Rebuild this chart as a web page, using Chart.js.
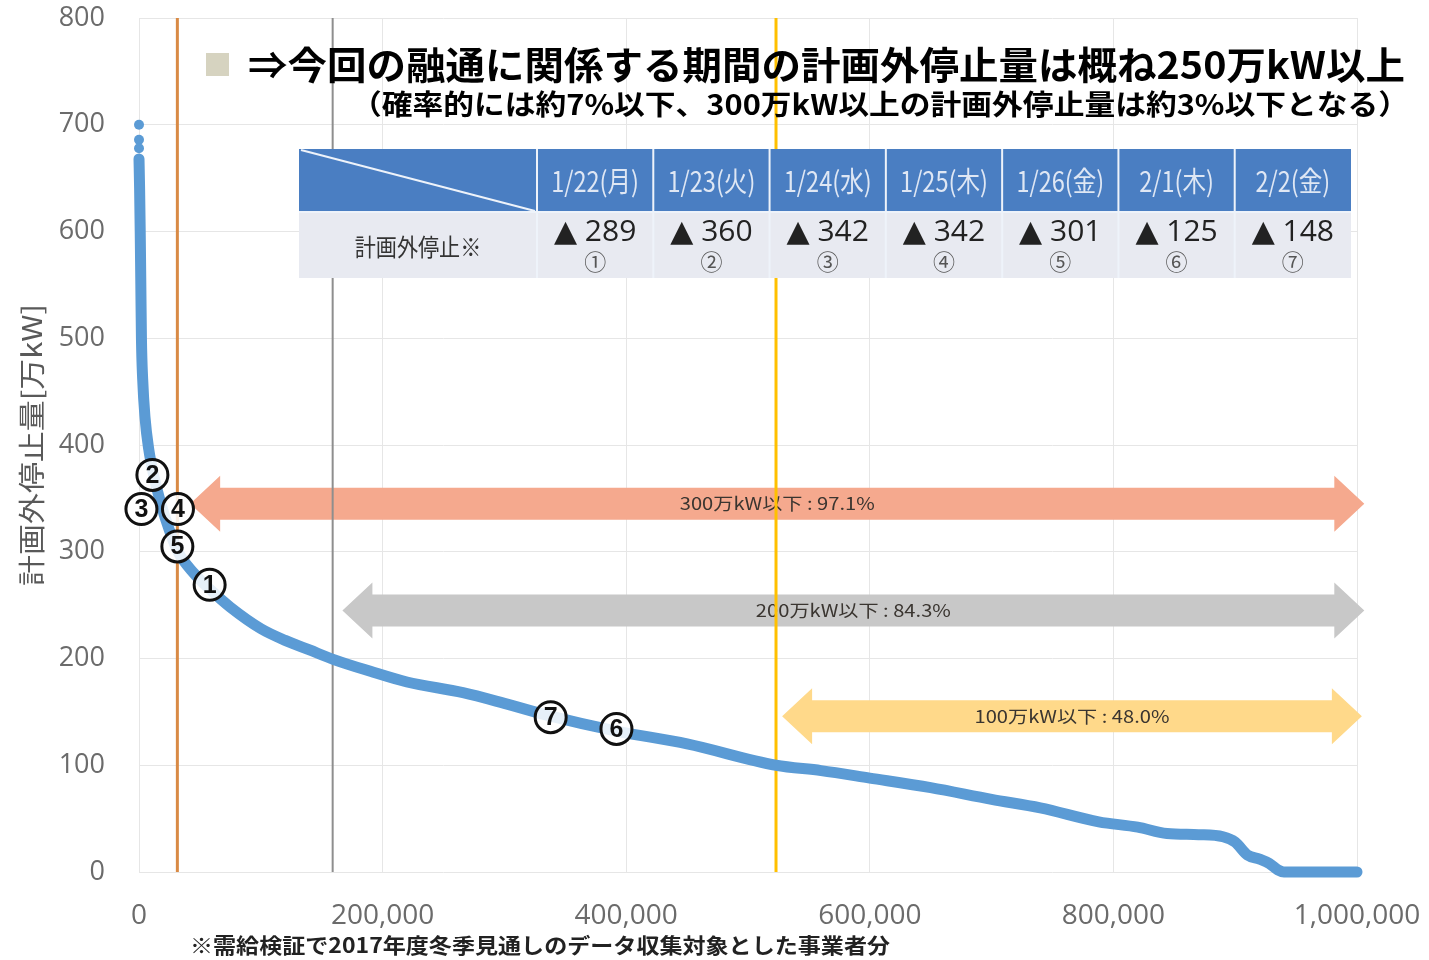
<!DOCTYPE html>
<html>
<head>
<meta charset="utf-8">
<script src="https://cdn.jsdelivr.net/npm/chart.js@4.4.1/dist/chart.umd.min.js"></script>
<style>
  html, body { margin:0; padding:0; background:#fff; }
  canvas { display:block; }
</style>
</head>
<body>
<canvas id="chart" width="1429" height="960"></canvas>
<script>
// ============ DATA ============
// duration curve of unplanned outage (万kW) vs. rank
const curveX = [0, 500, 1000, 1500, 2000, 3000, 5000, 8000, 12000, 18000, 25000, 32000, 45000, 58000, 75000,
  100000, 120000, 140000, 160000, 190000, 220000, 266000, 300000, 338000, 392000, 450000, 523000, 560000,
  600000, 650000, 700000, 740000, 788000, 820000, 844000, 870000, 890000, 900000, 910000, 920000, 928000,
  935000, 940000, 1000000];
const curveY = [668, 640, 600, 550, 500, 462, 425, 396, 372, 345, 320, 300, 280, 265, 248,
  228, 217, 208, 199, 188, 178, 168, 158, 146, 132, 120, 100, 95,
  88, 79, 68, 60, 47, 42, 36, 35, 33, 28, 16, 12, 8,
  2, 0, 0];
const topDotsY = [700, 686, 678];

const xTicks = [0, 200000, 400000, 600000, 800000, 1000000];
const yTicks = [0, 100, 200, 300, 400, 500, 600, 700, 800];

// reference lines (300 / 200 / 100 万kW crossings)
const refLineX = [31500, 159000, 523000];
const refLineColor = ['#D98A45', '#8E8E8E', '#FFC000'];

// range arrows
const arrowY = [345, 245, 146];
const arrowFrom = [42000, 167000, 528000];
const arrowTo = [1006000, 1006000, 1004000];
const arrowColor = ['#F5A98E', '#C8C8C8', '#FFD98A'];
const arrowLabels = ['300万kW以下 : 97.1%', '200万kW以下 : 84.3%', '100万kW以下 : 48.0%'];

// table
const dates = ['1/22(月)', '1/23(火)', '1/24(水)', '1/25(木)', '1/26(金)', '2/1(木)', '2/2(金)'];
const outages = [289, 360, 342, 342, 301, 125, 148];
const marks = ['①', '②', '③', '④', '⑤', '⑥', '⑦'];

// circled markers on the curve
const markX = [58000, 11000, 2000, 32000, 31500, 392000, 338000];
const markY = [269, 372, 340, 340, 305, 134, 145];

const JP = '"Noto Sans CJK JP", "Noto Sans", sans-serif';

function fitText(ctx, text, x, y, w, align) {
  const m = ctx.measureText(text).width;
  const s = w / m;
  ctx.save();
  ctx.translate(x, y);
  ctx.scale(s, 1);
  ctx.textAlign = align;
  ctx.fillText(text, 0, 0);
  ctx.restore();
}

function squeezeText(ctx, text, x, y, s) {
  ctx.save();
  ctx.translate(x, y);
  ctx.scale(s, 1);
  ctx.textAlign = 'center';
  ctx.fillText(text, 0, 0);
  ctx.restore();
}

function drawArrow(ctx, x1, x2, cy, color) {
  const bh = 16, hh = 28, hl = 30;
  ctx.fillStyle = color;
  ctx.beginPath();
  ctx.moveTo(x1, cy);
  ctx.lineTo(x1 + hl, cy - hh);
  ctx.lineTo(x1 + hl, cy - bh);
  ctx.lineTo(x2 - hl, cy - bh);
  ctx.lineTo(x2 - hl, cy - hh);
  ctx.lineTo(x2, cy);
  ctx.lineTo(x2 - hl, cy + hh);
  ctx.lineTo(x2 - hl, cy + bh);
  ctx.lineTo(x1 + hl, cy + bh);
  ctx.lineTo(x1 + hl, cy + hh);
  ctx.closePath();
  ctx.fill();
}

const decorPlugin = {
  id: 'decor',
  beforeDatasetsDraw(chart) {
    const ctx = chart.ctx, xs = chart.scales.x, ys = chart.scales.y, area = chart.chartArea;
    ctx.save();
    // y axis title
    ctx.fillStyle = '#595959';
    ctx.font = '27px ' + JP;
    ctx.textBaseline = 'middle';
    ctx.save();
    ctx.translate(32, (area.top + area.bottom) / 2);
    ctx.rotate(-Math.PI / 2);
    fitText(ctx, '計画外停止量[万kW]', 0, 0, 282, 'center');
    ctx.restore();

    arrowY.forEach((v, i) => {
      const x1 = xs.getPixelForValue(arrowFrom[i]);
      const x2 = xs.getPixelForValue(arrowTo[i]);
      const cy = ys.getPixelForValue(v);
      drawArrow(ctx, x1, x2, cy, arrowColor[i]);
      ctx.fillStyle = '#3a3530';
      ctx.font = '17px ' + JP;
      ctx.textBaseline = 'middle';
      fitText(ctx, arrowLabels[i], (x1 + x2) / 2, cy, 195, 'center');
    });
    refLineX.forEach((v, i) => {
      const x = xs.getPixelForValue(v);
      ctx.strokeStyle = refLineColor[i];
      ctx.lineWidth = i === 1 ? 2 : 3;
      ctx.beginPath();
      ctx.moveTo(x, area.top);
      ctx.lineTo(x, area.bottom);
      ctx.stroke();
    });
    ctx.restore();
  },
  afterDatasetsDraw(chart) {
    const ctx = chart.ctx, xs = chart.scales.x, ys = chart.scales.y;
    ctx.save();
    markX.forEach((v, i) => {
      const x = xs.getPixelForValue(v), y = ys.getPixelForValue(markY[i]);
      ctx.beginPath();
      ctx.arc(x, y, 15.5, 0, Math.PI * 2);
      ctx.fillStyle = 'rgba(255,255,255,0.85)';
      ctx.fill();
      ctx.lineWidth = 3;
      ctx.strokeStyle = '#111';
      ctx.stroke();
      ctx.fillStyle = '#111';
      ctx.font = 'bold 25px "Liberation Sans", Arial, sans-serif';
      ctx.textAlign = 'center';
      ctx.textBaseline = 'middle';
      ctx.fillText(String(i + 1), x, y + 1);
    });
    ctx.restore();
  },
  afterDraw(chart) {
    const ctx = chart.ctx;
    ctx.save();
    // title
    ctx.fillStyle = '#D6D3C0';
    ctx.fillRect(206, 53, 23, 23);
    ctx.fillStyle = '#000';
    ctx.textBaseline = 'middle';
    ctx.font = 'bold 38px ' + JP;
    fitText(ctx, '⇒今回の融通に関係する期間の計画外停止量は概ね250万kW以上', 248, 65, 1157, 'left');
    ctx.font = 'bold 28px ' + JP;
    fitText(ctx, '（確率的には約7%以下、300万kW以上の計画外停止量は約3%以下となる）', 351, 104, 1058, 'left');

    // table
    const tx0 = 299, tx1 = 537, tx2 = 1351, top = 149, mid = 212, bot = 278;
    const cw = (tx2 - tx1) / dates.length;
    ctx.fillStyle = '#4A7EC2';
    ctx.fillRect(tx0, top, tx2 - tx0, mid - top);
    ctx.fillStyle = '#E8EAF1';
    ctx.fillRect(tx0, mid, tx2 - tx0, bot - mid);
    ctx.strokeStyle = '#EEF3FA';
    ctx.lineWidth = 2;
    ctx.beginPath();
    ctx.moveTo(tx0, mid); ctx.lineTo(tx2, mid);
    ctx.moveTo(tx0 + 2, top + 1); ctx.lineTo(tx1 - 2, mid - 1);
    for (let i = 0; i <= dates.length - 1; i++) {
      ctx.moveTo(tx1 + i * cw, top); ctx.lineTo(tx1 + i * cw, bot);
    }
    ctx.stroke();
    ctx.fillStyle = '#333';
    ctx.font = '24px ' + JP;
    squeezeText(ctx, '計画外停止※', (tx0 + tx1) / 2, 247, 0.88);
    dates.forEach((d, i) => {
      const cx = tx1 + cw * (i + 0.5);
      ctx.fillStyle = '#DFE7F4';
      ctx.font = '28px ' + JP;
      squeezeText(ctx, d, cx, 181, 0.84);
      ctx.fillStyle = '#222';
      ctx.font = '30px "Open Sans", "DejaVu Sans", sans-serif';
      squeezeText(ctx, '▲ ' + outages[i], cx, 232, 1.0);
      ctx.fillStyle = '#555';
      ctx.font = '22px ' + JP;
      squeezeText(ctx, marks[i], cx, 262, 1.0);
    });

    // footnote
    ctx.fillStyle = '#222';
    ctx.font = 'bold 21px ' + JP;
    fitText(ctx, '※需給検証で2017年度冬季見通しのデータ収集対象とした事業者分', 190, 945, 700, 'left');
    ctx.restore();
  }
};

new Chart(document.getElementById('chart'), {
  type: 'scatter',
  data: {
    datasets: [
      {
        data: curveX.map((x, i) => ({ x, y: curveY[i] })),
        showLine: true,
        borderColor: '#5B9BD5',
        borderWidth: 11,
        borderCapStyle: 'round',
        borderJoinStyle: 'round',
        cubicInterpolationMode: 'monotone',
        pointRadius: 0,
        clip: 10
      },
      {
        data: topDotsY.map(y => ({ x: 0, y })),
        backgroundColor: '#5B9BD5',
        borderWidth: 0,
        pointRadius: 5,
        clip: 10
      }
    ]
  },
  options: {
    responsive: false,
    animation: false,
    devicePixelRatio: 1,
    layout: { padding: { top: 18, right: 72, left: 0, bottom: 0 } },
    plugins: { legend: { display: false }, tooltip: { enabled: false } },
    scales: {
      x: {
        type: 'linear', min: 0, max: 1000000,
        afterBuildTicks: s => { s.ticks = xTicks.map(v => ({ value: v })); },
        afterFit: s => { s.height = 88; s.paddingLeft = 0; s.paddingRight = 0; },
        grid: { color: '#E6E6E6', drawTicks: false },
        border: { display: false },
        ticks: { padding: 27, color: '#6b6b6b', font: { family: '"Open Sans", sans-serif', size: 28 },
          callback: v => v.toLocaleString('en-US') }
      },
      y: {
        min: 0, max: 800,
        afterBuildTicks: s => { s.ticks = yTicks.map(v => ({ value: v })); },
        afterFit: s => { s.width = 139; s.paddingTop = 0; s.paddingBottom = 0; },
        grid: { color: '#E6E6E6', drawTicks: false },
        border: { display: false },
        ticks: { padding: 34, color: '#6b6b6b', font: { family: '"Open Sans", sans-serif', size: 27 } }
      }
    }
  },
  plugins: [decorPlugin]
});
</script>
</body>
</html>
